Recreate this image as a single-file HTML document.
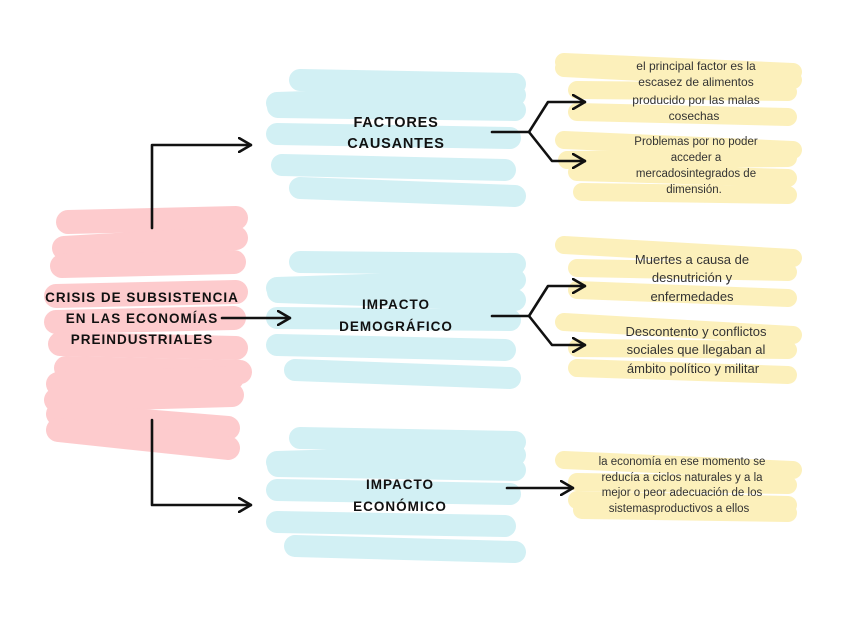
<!DOCTYPE html>
<html><head><meta charset="utf-8"><style>
html,body{margin:0;padding:0;background:#fff;}
svg{display:block;}
.t{font-family:"Liberation Sans",sans-serif;font-weight:bold;fill:#111;text-anchor:middle;}
.s{font-family:"Liberation Sans",sans-serif;fill:#333;text-anchor:middle;}
</style></head><body>
<svg width="848" height="636" viewBox="0 0 848 636" xmlns="http://www.w3.org/2000/svg">
<defs>
<marker id="ah" viewBox="0 0 14 16" refX="13" refY="8" markerWidth="14" markerHeight="16" markerUnits="userSpaceOnUse" orient="auto">
<path d="M1 1 L13 8 L1 15" fill="none" stroke="#111" stroke-width="2.6" stroke-linecap="round" stroke-linejoin="round"/>
</marker>
</defs>
<!-- red -->
<g stroke="#fca9ad" stroke-linecap="round" stroke-width="24" opacity="0.6">
<line x1="68" y1="222" x2="236" y2="218"/>
<line x1="64" y1="248" x2="236" y2="238"/>
<line x1="62" y1="266" x2="234" y2="262"/>
<line x1="56" y1="296" x2="236" y2="292"/>
<line x1="56" y1="322" x2="234" y2="318"/>
<line x1="60" y1="344" x2="236" y2="348"/>
<line x1="66" y1="368" x2="240" y2="372"/>
<line x1="58" y1="384" x2="232" y2="378"/>
<line x1="56" y1="400" x2="232" y2="395"/>
<line x1="58" y1="414" x2="228" y2="428"/>
<line x1="58" y1="430" x2="228" y2="448"/>
</g>
<!-- blue -->
<g stroke="#bfeaf0" stroke-linecap="round" stroke-width="22" opacity="0.7">
<line x1="300" y1="80" x2="515" y2="84"/>
<line x1="277" y1="103" x2="515" y2="95"/>
<line x1="278" y1="107" x2="515" y2="110"/>
<line x1="277" y1="134" x2="510" y2="138"/>
<line x1="282" y1="165" x2="505" y2="170"/>
<line x1="300" y1="188" x2="515" y2="196"/>
<line x1="300" y1="262" x2="515" y2="264"/>
<line x1="277" y1="288" x2="515" y2="280"/>
<line x1="278" y1="292" x2="515" y2="300"/>
<line x1="277" y1="318" x2="510" y2="320"/>
<line x1="277" y1="345" x2="505" y2="350"/>
<line x1="295" y1="370" x2="510" y2="378"/>
<line x1="300" y1="438" x2="515" y2="442"/>
<line x1="277" y1="462" x2="515" y2="455"/>
<line x1="278" y1="466" x2="515" y2="470"/>
<line x1="277" y1="490" x2="510" y2="494"/>
<line x1="277" y1="522" x2="505" y2="526"/>
<line x1="295" y1="546" x2="515" y2="552"/>
</g>
<!-- yellow -->
<g stroke="#fcea9f" stroke-linecap="round" stroke-width="18" opacity="0.7">
<line x1="564" y1="62" x2="793" y2="72"/>
<line x1="564" y1="68" x2="793" y2="80"/>
<line x1="577" y1="90" x2="788" y2="92"/>
<line x1="577" y1="112" x2="788" y2="117"/>
<line x1="564" y1="140" x2="793" y2="150"/>
<line x1="567" y1="160" x2="788" y2="158"/>
<line x1="577" y1="172" x2="788" y2="178"/>
<line x1="582" y1="192" x2="788" y2="195"/>
<line x1="564" y1="245" x2="793" y2="258"/>
<line x1="577" y1="268" x2="788" y2="272"/>
<line x1="577" y1="290" x2="788" y2="298"/>
<line x1="564" y1="322" x2="793" y2="335"/>
<line x1="577" y1="348" x2="788" y2="350"/>
<line x1="577" y1="368" x2="788" y2="375"/>
<line x1="564" y1="460" x2="793" y2="470"/>
<line x1="577" y1="482" x2="788" y2="485"/>
<line x1="577" y1="500" x2="788" y2="505"/>
<line x1="582" y1="510" x2="788" y2="513"/>
</g>
<!-- connectors -->
<g fill="none" stroke="#111" stroke-width="2.6" stroke-linecap="round" stroke-linejoin="round">
<path d="M152 228 V145 H251" marker-end="url(#ah)"/>
<path d="M152 420 V505 H251" marker-end="url(#ah)"/>
<path d="M222 318 H290" marker-end="url(#ah)"/>
<path d="M492 132 H529"/>
<path d="M529 132 L548 102 H585" marker-end="url(#ah)"/>
<path d="M529 132 L552 161 H585" marker-end="url(#ah)"/>
<path d="M492 316 H529"/>
<path d="M529 316 L548 286 H585" marker-end="url(#ah)"/>
<path d="M529 316 L552 345 H585" marker-end="url(#ah)"/>
<path d="M507 488 H573" marker-end="url(#ah)"/>
</g>
<!-- texts -->
<g class="t" font-size="13.5" letter-spacing="1">
<text x="142" y="302">CRISIS DE SUBSISTENCIA</text>
<text x="142" y="323">EN LAS ECONOMÍAS</text>
<text x="142" y="344">PREINDUSTRIALES</text>
</g>
<g class="t" font-size="14.5" letter-spacing="0.8">
<text x="396" y="127">FACTORES</text>
<text x="396" y="148">CAUSANTES</text>
</g>
<g class="t" font-size="13.5" letter-spacing="1">
<text x="396" y="309">IMPACTO</text>
<text x="396" y="331">DEMOGRÁFICO</text>
<text x="400" y="489">IMPACTO</text>
<text x="400" y="511">ECONÓMICO</text>
</g>
<g class="s" font-size="12">
<text x="696" y="70">el principal factor es la</text>
<text x="696" y="86">escasez de alimentos</text>
<text x="696" y="104">producido por las malas</text>
<text x="694" y="120">cosechas</text>
</g>
<g class="s" font-size="11.5">
<text x="696" y="145">Problemas por no poder</text>
<text x="696" y="161">acceder a</text>
<text x="696" y="177">mercadosintegrados de</text>
<text x="694" y="193">dimensión.</text>
</g>
<g class="s" font-size="13">
<text x="692" y="264">Muertes a causa de</text>
<text x="692" y="282">desnutrición y</text>
<text x="692" y="301">enfermedades</text>
<text x="696" y="336">Descontento y conflictos</text>
<text x="696" y="354">sociales que llegaban al</text>
<text x="693" y="373">ámbito político y militar</text>
</g>
<g class="s" font-size="11.5">
<text x="682" y="465">la economía en ese momento se</text>
<text x="682" y="481">reducía a ciclos naturales y a la</text>
<text x="682" y="496">mejor o peor adecuación de los</text>
<text x="679" y="512">sistemasproductivos a ellos</text>
</g>
</svg>
</body></html>
